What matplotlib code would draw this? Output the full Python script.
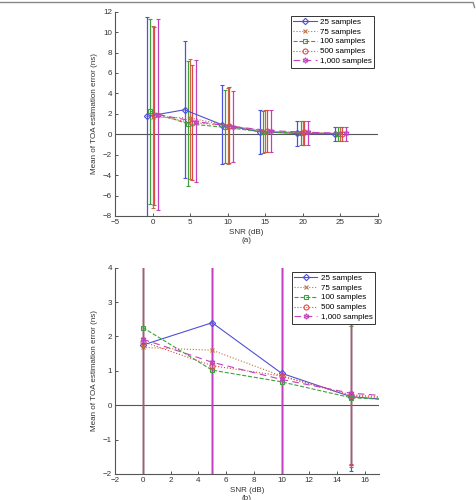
import matplotlib
matplotlib.use("Agg")
import matplotlib.pyplot as plt
from matplotlib.lines import Line2D

plt.rcParams['font.family'] = ['Liberation Sans', 'DejaVu Sans']
FS = 5.8

snr = [0, 5, 10, 15, 20, 25]
labels = ['25 samples', '75 samples', '100 samples', '500 samples', '1,000 samples']

means = {
    '25 samples':    [1.75, 2.40, 0.93, 0.25, 0.08, 0.04],
    '75 samples':    [1.68, 1.60, 0.85, 0.27, 0.15, 0.08],
    '100 samples':   [2.26, 1.02, 0.68, 0.22, 0.12, 0.06],
    '500 samples':   [1.85, 1.15, 0.85, 0.30, 0.18, 0.07],
    '1,000 samples': [1.92, 1.25, 0.75, 0.35, 0.20, 0.08],
}
lower = {
    '25 samples':    [-8.2, -4.30, -2.95, -1.90, -1.10, -0.68],
    '75 samples':    [-7.2, -4.40, -2.90, -1.75, -1.05, -0.65],
    '100 samples':   [-6.8, -5.10, -2.85, -1.80, -1.05, -0.65],
    '500 samples':   [-6.9, -4.50, -2.80, -1.70, -1.05, -0.62],
    '1,000 samples': [-7.4, -4.70, -2.75, -1.75, -1.05, -0.65],
}
upper = {
    '25 samples':    [11.45, 9.13, 4.83, 2.35, 1.33, 0.74],
    '75 samples':    [10.60, 7.40, 4.50, 2.35, 1.30, 0.70],
    '100 samples':   [11.30, 7.20, 4.30, 2.30, 1.30, 0.70],
    '500 samples':   [10.50, 6.80, 4.60, 2.35, 1.30, 0.72],
    '1,000 samples': [11.25, 7.24, 4.27, 2.40, 1.28, 0.70],
}
# horizontal jitter of each series in panel (a)
offsets = {'25 samples': -0.75, '75 samples': 0.0, '100 samples': -0.3,
           '500 samples': 0.2, '1,000 samples': 0.75}

hexagram = (6, 1, 0)
styles = {
    '25 samples':    dict(color='#5050d8', ls='-',  marker='D', ms=3.2),
    '75 samples':    dict(color='#c07040', ls=':',  marker='x', ms=2.8),
    '100 samples':   dict(color='#40a040', ls='--', marker='s', ms=3.2),
    '500 samples':   dict(color='#e04848', ls=':',  marker='o', ms=3.6),
    '1,000 samples': dict(color='#c040c0', ls=(0, (6, 4)), marker=hexagram, ms=4.0),
}

fig = plt.figure(figsize=(4.76, 5.0), dpi=100)
ax1 = fig.add_axes([115/476, 1-216/500, 263/476, (216-11.7)/500])
ax2 = fig.add_axes([115/476, 1-474/500, 263.7/476, (474-267.7)/500])

def draw(ax, use_offset):
    ax.axhline(0, color='#555555', lw=0.8, zorder=1)
    handles = []
    for i, lab in enumerate(labels):
        st = styles[lab]
        off = offsets[lab] if use_offset else 0.0
        x = [s + off for s in snr]
        m = means[lab]
        yerr = [[mi - lo for mi, lo in zip(m, lower[lab])],
                [hi - mi for mi, hi in zip(m, upper[lab])]]
        eb = ax.errorbar(x, m, yerr=yerr, fmt='none', ecolor=st['color'],
                         elinewidth=0.9, capsize=1.6, capthick=0.8, zorder=2 + 0.01 * i)
        for c in eb[2]:
            c.set_snap(True)
        h, = ax.plot(x, m, color=st['color'], ls=st['ls'], lw=0.8,
                     marker=st['marker'], ms=st['ms'], mfc='none',
                     mec=st['color'], mew=0.8, zorder=3)
        handles.append(h)
    for sp in ['top', 'right']:
        ax.spines[sp].set_visible(False)
    for sp in ['left', 'bottom']:
        ax.spines[sp].set_color('#555555')
        ax.spines[sp].set_linewidth(0.8)
    ax.tick_params(direction='in', length=2.5, width=0.7, color='#555555',
                   labelsize=FS, labelcolor='#333333', pad=2)
    ax.set_ylabel('Mean of TOA estimation error (ns)', fontsize=FS, color='#333333', labelpad=4)
    leg = ax.legend(handles, labels, loc='upper right', bbox_to_anchor=(0.986, 0.981),
                    borderaxespad=0, fontsize=FS, fancybox=False, framealpha=1,
                    edgecolor='#333333', handlelength=2.9, handletextpad=0.4,
                    labelspacing=0.28, borderpad=0.3)
    leg.get_frame().set_linewidth(0.7)
    return ax

draw(ax1, True)
ax1.set_xlim(-5, 30)
ax1.set_ylim(-8, 12)
ax1.set_xticks(range(-5, 31, 5))
ax1.set_yticks(range(-8, 13, 2))
ax1.set_xlabel('SNR (dB)\n(a)', fontsize=FS, color='#333333', labelpad=2, linespacing=1.2)

draw(ax2, False)
ax2.set_xlim(-2, 17)
ax2.set_ylim(-2, 4)
ax2.set_xticks(range(-2, 17, 2))
ax2.set_yticks(range(-2, 5, 1))
ax2.set_xlabel('SNR (dB)\n(b)', fontsize=FS, color='#333333', labelpad=2, linespacing=1.2)

# thin frame line at the top of the figure
fig.add_artist(Line2D([0, 0.994, 0.997], [0.995, 0.995, 0.985],
                      transform=fig.transFigure, color='#888888', lw=1.0))

fig.savefig('out.png', dpi=100)
